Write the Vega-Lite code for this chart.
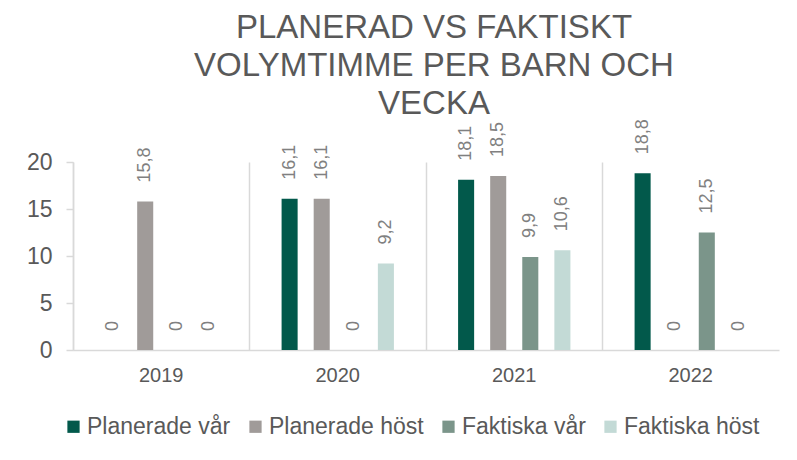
{
  "$schema": "https://vega.github.io/schema/vega-lite/v6.json",
  "width": 706,
  "height": 188,
  "autosize": "none",
  "padding": {"left": 73, "top": 162, "right": 18, "bottom": 110},
  "background": "white",
  "config": {
    "locale": {"number": {"decimal": ",", "thousands": " ", "grouping": [3], "currency": ["", " kr"]}},
    "font": "Liberation Sans",
    "view": {"stroke": null}
  },
  "title": {
    "text": ["PLANERAD VS FAKTISKT", "VOLYMTIMME PER BARN OCH", "VECKA"],
    "fontSize": 33,
    "fontWeight": "normal",
    "color": "#595959",
    "lineHeight": 38,
    "anchor": "middle",
    "dx": 8,
    "offset": -2
  },
  "data": {
    "values": [
      {"year": "2019", "serie": "Planerade vår", "v": 0},
      {"year": "2019", "serie": "Planerade höst", "v": 15.8},
      {"year": "2019", "serie": "Faktiska vår", "v": 0},
      {"year": "2019", "serie": "Faktiska höst", "v": 0},
      {"year": "2020", "serie": "Planerade vår", "v": 16.1},
      {"year": "2020", "serie": "Planerade höst", "v": 16.1},
      {"year": "2020", "serie": "Faktiska vår", "v": 0},
      {"year": "2020", "serie": "Faktiska höst", "v": 9.2},
      {"year": "2021", "serie": "Planerade vår", "v": 18.1},
      {"year": "2021", "serie": "Planerade höst", "v": 18.5},
      {"year": "2021", "serie": "Faktiska vår", "v": 9.9},
      {"year": "2021", "serie": "Faktiska höst", "v": 10.6},
      {"year": "2022", "serie": "Planerade vår", "v": 18.8},
      {"year": "2022", "serie": "Planerade höst", "v": 0},
      {"year": "2022", "serie": "Faktiska vår", "v": 12.5},
      {"year": "2022", "serie": "Faktiska höst", "v": 0}
    ]
  },
  "encoding": {
    "x": {
      "field": "year",
      "type": "nominal",
      "scale": {"paddingInner": 0, "paddingOuter": 0},
      "axis": {
        "title": null,
        "labelAngle": 0,
        "labelFontSize": 20,
        "labelColor": "#595959",
        "labelPadding": 15,
        "ticks": false,
        "domainColor": "#d9d9d9",
        "domainWidth": 1.5,
        "grid": true,
        "gridColor": "#d9d9d9",
        "gridWidth": 1.5,
        "bandPosition": 0
      }
    },
    "xOffset": {
      "field": "serie",
      "type": "nominal",
      "sort": ["Planerade vår", "Planerade höst", "Faktiska vår", "Faktiska höst"],
      "scale": {"paddingInner": 0.5, "paddingOuter": 1.25}
    },
    "y": {
      "field": "v",
      "type": "quantitative",
      "scale": {"domain": [0, 20], "nice": false},
      "axis": {
        "title": null,
        "values": [0, 5, 10, 15, 20],
        "grid": false,
        "labelFontSize": 23,
        "labelColor": "#595959",
        "labelPadding": 14,
        "tickSize": 7,
        "tickColor": "#d9d9d9",
        "tickWidth": 1.5,
        "domainColor": "#d9d9d9",
        "domainWidth": 1.5
      }
    }
  },
  "layer": [
    {
      "mark": {"type": "bar"},
      "encoding": {
        "color": {
          "field": "serie",
          "type": "nominal",
          "sort": ["Planerade vår", "Planerade höst", "Faktiska vår", "Faktiska höst"],
          "scale": {
            "domain": ["Planerade vår", "Planerade höst", "Faktiska vår", "Faktiska höst"],
            "range": ["#02594b", "#a09b99", "#7b958a", "#c3dad6"]
          },
          "legend": {
            "title": null,
            "orient": "none",
            "legendX": -11,
            "legendY": 253,
            "direction": "horizontal",
            "symbolType": "square",
            "symbolSize": 150,
            "symbolStrokeWidth": 0,
            "labelFontSize": 23,
            "labelColor": "#595959",
            "labelOffset": 2,
            "columnPadding": 13
          }
        }
      }
    },
    {
      "mark": {
        "type": "text",
        "angle": 270,
        "align": "left",
        "baseline": "middle",
        "dx": 19,
        "fontSize": 18,
        "color": "#808080"
      },
      "encoding": {
        "text": {"field": "v", "type": "quantitative", "format": ".1~f"}
      }
    }
  ]
}
